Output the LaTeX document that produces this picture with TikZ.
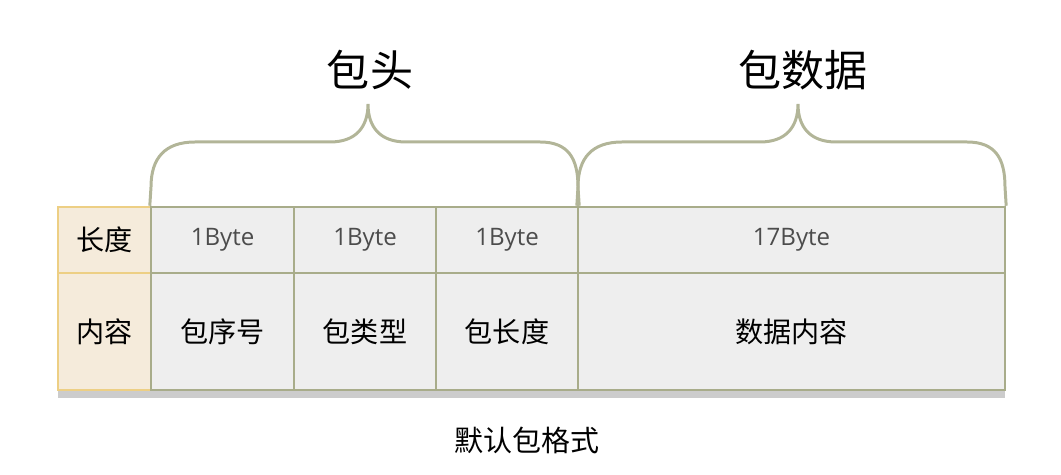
\documentclass[tikz,border=0pt]{standalone}
\usepackage{fontspec}
\setmainfont{Noto Sans CJK SC}
\newfontfamily\bytefont{Open Sans}
\usepackage{xcolor}
\usepackage{tikz}
\usetikzlibrary{positioning}

\definecolor{cellfill}{HTML}{EEEEEE}
\definecolor{celldraw}{HTML}{A8AC8A}
\definecolor{keyfill}{HTML}{F5EBDB}
\definecolor{keydraw}{HTML}{EDCF84}
\definecolor{bracecol}{HTML}{B2B598}

\begin{document}
\begin{tikzpicture}
            [x=0.02cm, y=-0.02cm,
             cell/.style = {draw=celldraw, fill=cellfill, line width=1.4pt, minimum height=#1*0.02cm, inner sep=0pt},
             key/.style = {draw=keydraw, fill=keyfill, line width=1.4pt, minimum width=1.86cm, minimum height=#1*0.02cm, inner sep=0pt, font=\fontsize{16}{18}\selectfont},
             size/.style = {font=\bytefont\fontsize{13.7}{16}\selectfont, text=black!70},
             field/.style = {font=\fontsize{16}{18}\selectfont},
             brace/.style = {draw=bracecol, line width=1.7pt}]

            \useasboundingbox (0,0) rectangle (1061,475);

            % shadow under the table
            \fill[black!20] (58,390) rectangle (1005,398);

            \node[key=66] (klen) at (104.5,240) {长度};
            \node[key=117] (kcon) at (104.5,331.5) {内容};

            \node[cell=66, minimum width=2.86cm, size] (len1) at (222.5,240) {1Byte};
            \node[cell=66, minimum width=2.84cm, size] (len2) at (365,240) {1Byte};
            \node[cell=66, minimum width=2.84cm, size] (len3) at (507,240) {1Byte};
            \node[cell=66, minimum width=8.54cm, size] (len4) at (791.5,240) {17Byte};

            \node[cell=117, minimum width=2.86cm, field] (con1) at (222.5,331.5) {包序号};
            \node[cell=117, minimum width=2.84cm, field] (con2) at (365,331.5) {包类型};
            \node[cell=117, minimum width=2.84cm, field] (con3) at (507,331.5) {包长度};
            \node[cell=117, minimum width=8.54cm, field] (con4) at (791.5,331.5) {数据内容};

            % braces
            \draw[brace] (len1.north west) -- (151,187) .. controls (151,158) and (165,142) .. (195,142)
                -- (330,142) .. controls (355,142) and (368,128) .. (368,104)
                .. controls (368,128) and (381,142) .. (406,142)
                -- (540,142) .. controls (568,142) and (578,158) .. (578,187) -- (len3.north east);
            \draw[brace] (len4.north west) -- (578,187) .. controls (578,158) and (592,142) .. (622,142)
                -- (760,142) .. controls (785,142) and (798,128) .. (798,104)
                .. controls (798,128) and (811,142) .. (836,142)
                -- (967,142) .. controls (995,142) and (1005,158) .. (1005,187) -- (len4.north east);

            \node[font=\fontsize{24.5}{28}\selectfont] (head) at (370,70) {包头};
            \node[font=\fontsize{24.5}{28}\selectfont] (data) at (803,70) {包数据};
            \node[font=\fontsize{16.5}{18}\selectfont] (cap) at (527,440) {默认包格式};

        \end{tikzpicture}
\end{document}
